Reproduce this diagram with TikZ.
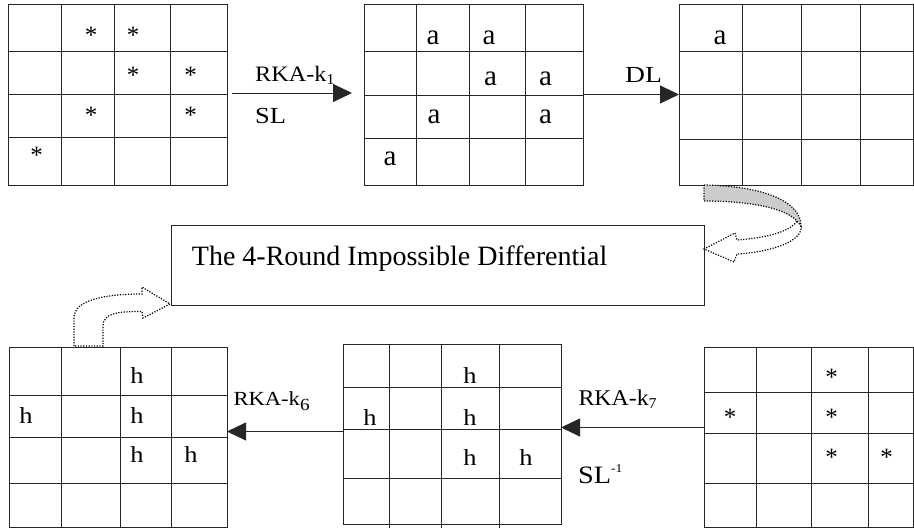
\documentclass[tikz,border=0pt]{standalone}
\usepackage{graphicx}
\usepackage{fontspec}
\setmainfont{Liberation Serif}
\usetikzlibrary{arrows.meta}
% horizontally widened text
\newcommand\wide[2]{\scalebox{#1}[1]{#2}}
\begin{document}
\begin{tikzpicture}[x=1pt,y=-1pt,
  gl/.style={line width=0.9pt, draw=black!85},
  frame/.style={draw=black!85, line width=0.9pt, inner sep=0pt, outer sep=0pt},
  acell/.style={anchor=base, inner sep=0pt, font=\fontsize{29}{31}\selectfont},
  scell/.style={anchor=base, inner sep=0pt, font=\fontsize{25}{27}\selectfont},
  hcell/.style={anchor=base, inner sep=0pt, font=\fontsize{23}{25}\selectfont},
  lbl/.style={anchor=base west, inner sep=0pt},
  arr/.style={line width=0.9pt, draw=black!85, -{Triangle[length=19pt,width=18pt]}},
  curl/.style={line width=1.2pt, dash pattern=on 1.2pt off 1.5pt},
]
\useasboundingbox (0,0) rectangle (914,530);

% ---------- top row of state grids ----------
\node[frame, minimum width=219pt, minimum height=181pt] (g1) at (117.5,94.5) {};
\foreach \x in {61,114,170} \draw[gl] (\x,4) -- (\x,185);
\foreach \y in {51,94,137} \draw[gl] (8,\y) -- (227,\y);

\node[frame, minimum width=219pt, minimum height=181pt] (g2) at (473.5,94.5) {};
\foreach \x in {416,469,525} \draw[gl] (\x,4) -- (\x,185);
\foreach \y in {51,95,138} \draw[gl] (364,\y) -- (583,\y);

\node[frame, minimum width=234.5pt, minimum height=181pt] (g3) at (796.25,94.5) {};
\foreach \x in {742,801,860} \draw[gl] (\x,4) -- (\x,185);
\foreach \y in {51,94,139} \draw[gl] (679,\y) -- (913.5,\y);

% ---------- bottom row of state grids ----------
\node[frame, minimum width=218pt, minimum height=180pt] (g4) at (118,437) {};
\foreach \x in {61,120,171} \draw[gl] (\x,347) -- (\x,527);
\foreach \y in {395,437,483} \draw[gl] (9,\y) -- (227,\y);

\node[frame, minimum width=218pt, minimum height=180pt] (g5) at (452,434) {};
\foreach \x in {389,441,499} \draw[gl] (\x,344) -- (\x,528);
\foreach \y in {387,429,478} \draw[gl] (343,\y) -- (561,\y);

\node[frame, minimum width=209pt, minimum height=180pt] (g6) at (808.5,437) {};
\foreach \x in {756,811,868} \draw[gl] (\x,347) -- (\x,527);
\foreach \y in {392,433,483} \draw[gl] (704,\y) -- (913,\y);

% ---------- cell entries ----------
\node[scell] (s11) at (91,43.6) {*};
\node[scell] (s12) at (133,43.6) {*};
\node[scell] (s21) at (133,83.6) {*};
\node[scell] (s22) at (190.5,83.6) {*};
\node[scell] (s31) at (91,123.6) {*};
\node[scell] (s32) at (190.5,123.6) {*};
\node[scell] (s41) at (36.7,163.6) {*};

\node[acell] (a11) at (433,45) {a};
\node[acell] (a12) at (489,45) {a};
\node[acell] (a21) at (490.5,85) {a};
\node[acell] (a22) at (545.5,85) {a};
\node[acell] (a31) at (434,123) {a};
\node[acell] (a32) at (545.5,123) {a};
\node[acell] (a41) at (390,165) {a};

\node[acell] (b11) at (720,45) {a};

\node[hcell] (h11) at (137,383) {\wide{1.15}{h}};
\node[hcell] (h21) at (26,423) {\wide{1.15}{h}};
\node[hcell] (h22) at (137,423) {\wide{1.15}{h}};
\node[hcell] (h31) at (137,462) {\wide{1.15}{h}};
\node[hcell] (h32) at (191,462) {\wide{1.15}{h}};

\node[hcell] (k11) at (470,383.3) {\wide{1.15}{h}};
\node[hcell] (k21) at (370,425) {\wide{1.15}{h}};
\node[hcell] (k22) at (470,425) {\wide{1.15}{h}};
\node[hcell] (k31) at (470,465) {\wide{1.15}{h}};
\node[hcell] (k32) at (526,465) {\wide{1.15}{h}};

\node[scell] (t11) at (831.7,385.2) {*};
\node[scell] (t21) at (730,425.2) {*};
\node[scell] (t22) at (831.7,425.2) {*};
\node[scell] (t31) at (831.7,465.2) {*};
\node[scell] (t32) at (886.7,465.2) {*};

% ---------- round arrows and their labels ----------
\draw[arr] ([shift={(5pt,1.5pt)}]g1.east) -- ([shift={(-12pt,1.5pt)}]g2.west);
\node[lbl, font=\fontsize{22}{24}\selectfont] (l1) at (255,81.7)
  {\wide{1.1}{RKA-k\raisebox{-3pt}{\fontsize{15}{15}\selectfont 1}}};
\node[lbl, font=\fontsize{23}{25}\selectfont] (l2) at (255,123.3) {\wide{1.15}{SL}};

\draw[arr] (g2.east) -- (g3.west);
\node[lbl, font=\fontsize{23}{25}\selectfont] (l3) at (625,82) {\wide{1.2}{DL}};

\draw[arr] ([yshift=9.5pt]g6.west) -- ([yshift=9.5pt]g6.west -| g5.east);
\node[lbl, font=\fontsize{22.5}{24}\selectfont] (l4) at (578.3,405)
  {\wide{1.06}{RKA-k\raisebox{-3pt}{\fontsize{15}{15}\selectfont 7}}};
\node[lbl, font=\fontsize{25}{27}\selectfont] (l5) at (578,483.3)
  {\wide{1.13}{SL\raisebox{10.6pt}{\fontsize{12}{12}\selectfont -1}}};

\draw[arr] ([yshift=2.5pt]g5.west) -- ([yshift=2.5pt]g5.west -| g4.east);
\node[lbl, font=\fontsize{20}{22}\selectfont] (l6) at (233.3,405)
  {\wide{1.13}{RKA-k\raisebox{-5pt}{\fontsize{17}{17}\selectfont 6}}};

% ---------- the distinguisher box ----------
\node[frame, minimum width=533pt, minimum height=79.3pt] (box) at (437.5,265.3) {};
\node[lbl, font=\fontsize{28}{30}\selectfont] (boxtext) at (191.7,265)
  {The 4-Round Impossible Differential};

% ---------- curved block arrows into and out of the box ----------
% shaded back face of the upper curl
\fill[black!20] (704,185) .. controls (765,186) and (801,202) .. (801,226)
  -- (797,221) .. controls (785,208) and (750,201) .. (704,201) -- cycle;
\draw[curl] (704,185) .. controls (765,186) and (801,202) .. (801,226)
  -- (797,221) .. controls (785,208) and (750,201) .. (704,201) -- cycle;
% front face of the upper curl, ending in the arrow head
\draw[curl] (801,226) .. controls (803,242) and (770,252) .. (737,254)
  -- (734,262) -- (704,249) -- (735,233) -- (737,240)
  .. controls (765,238) and (790,232) .. (797,221);
% lower curl rising from the bottom-left grid
\draw[curl] (74,346) -- (74,318) .. controls (74,299) and (108,294) .. (142,294)
  -- (142,287) -- (170,304) -- (143,318) -- (142,311.5)
  .. controls (118,311.5) and (103,313) .. (103,326) -- (103,346) -- cycle;
\end{tikzpicture}
\end{document}
